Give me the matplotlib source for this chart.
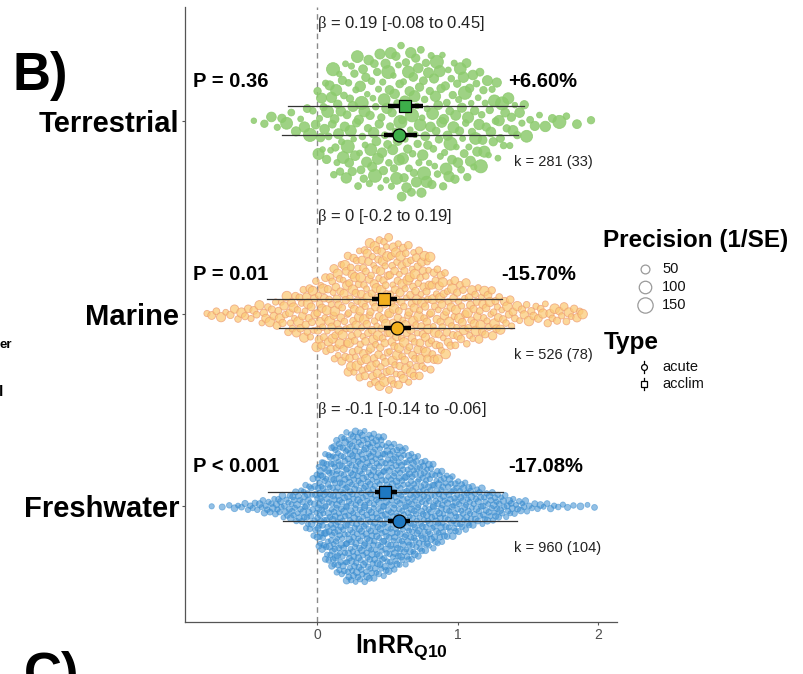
import numpy as np
import matplotlib
matplotlib.use('Agg')
import matplotlib.pyplot as plt

plt.rcParams['font.family'] = ['Liberation Sans', 'DejaVu Sans']
plt.rcParams['mathtext.fontset'] = 'custom'
plt.rcParams['mathtext.rm'] = 'Liberation Serif'
plt.rcParams['mathtext.bf'] = 'Liberation Sans:bold'
plt.rcParams['mathtext.it'] = 'Liberation Sans:italic'

# ---------------- data ----------------
habitats = ['Terrestrial', 'Marine', 'Freshwater']
ypos = [3, 2, 1]

bin_width = 0.1
# histogram of effect sizes (lnRR_Q10) per habitat, bins of width 0.1
terr_bin_start = -0.5
terr_counts = [1, 2, 3, 3, 5, 14, 18, 19, 20, 20, 22, 23, 22, 20, 19, 18, 16, 12, 9, 6, 3, 2, 2, 1, 1]
marine_bin_start = -0.8
marine_counts = [3, 3, 4, 5, 7, 10, 14, 18, 24, 31, 39, 43, 49, 47, 43, 41, 31, 23, 19, 18, 15, 10, 6, 6, 6, 6, 5]
fresh_bin_start = -0.8
fresh_counts = [1, 2, 4, 6, 10, 14, 20, 30, 68, 90, 100, 98, 92, 82, 74, 62, 52, 40, 32, 24, 20, 14, 9, 5, 4, 3, 2, 2]

terr_precision = [20, 35, 60, 25, 45, 90, 30, 55, 22, 70, 40, 110, 28, 50, 35, 80, 24, 45, 65]
marine_precision = [25, 40, 30, 55, 22, 35, 45, 28, 60, 33, 38]
fresh_precision = [18, 24, 20, 30, 16, 22, 26, 19, 21]

# model estimates: acute (circle) and acclim (square)
est_acute = [0.584, 0.569, 0.584]
est_acclim = [0.626, 0.477, 0.484]
ci_acute_lo = [0.477, 0.477, 0.505]
ci_acute_hi = [0.712, 0.669, 0.660]
ci_acclim_lo = [0.505, 0.390, 0.410]
ci_acclim_hi = [0.754, 0.570, 0.570]
pi_acute_lo = [-0.25, -0.27, -0.24]
pi_acute_hi = [1.43, 1.40, 1.42]
pi_acclim_lo = [-0.21, -0.356, -0.35]
pi_acclim_hi = [1.47, 1.317, 1.32]

p_labels = ['P = 0.36', 'P = 0.01', 'P < 0.001']
pct_labels = ['+6.60%', '-15.70%', '-17.08%']
beta_labels = [r'$\mathrm{\beta}$ = 0.19 [-0.08 to 0.45]',
               r'$\mathrm{\beta}$ = 0 [-0.2 to 0.19]',
               r'$\mathrm{\beta}$ = -0.1 [-0.14 to -0.06]']
k_labels = ['k = 281 (33)', 'k = 526 (78)', 'k = 960 (104)']

x_ticks = [0, 1, 2]
legend_precision = [50, 100, 150]
type_labels = ['acute', 'acclim']

# ---------------- styling ----------------
pt_face = ['#8DCB6E', '#FBCB78', '#3A8DD0']
pt_edge = ['#8DCB6E', '#EE9C72', '#3A8DD0']
pt_alpha = [0.85, 0.75, 0.55]
mark_col = ['#3DAE4A', '#F2B01E', '#1E78C2']
offset = 0.075


def van_der_corput(i, base=2):
    v, denom = 0.0, 1.0
    while i > 0:
        i, rem = divmod(i, base)
        denom *= base
        v += rem / denom
    return v


def bins_to_values(start, counts):
    vals = []
    for b, n in enumerate(counts):
        left = start + b * bin_width
        for j in range(n):
            vals.append(left + (j + 0.5) / n * bin_width)
    return np.array(vals)


def quasirandom(xv, width=0.4, adjust=0.5):
    n = len(xv)
    sd = np.std(xv, ddof=1)
    q75, q25 = np.percentile(xv, [75, 25])
    bw = 0.9 * min(sd, (q75 - q25) / 1.34) * n ** (-0.2) * adjust
    grid = np.linspace(xv.min() - 3 * bw, xv.max() + 3 * bw, 600)
    dg = np.exp(-0.5 * ((grid[:, None] - xv[None, :]) / bw) ** 2).sum(1)
    dens = np.interp(xv, grid, dg) / dg.max()
    ranks = np.argsort(np.argsort(xv, kind='stable'), kind='stable')
    vdc = np.array([van_der_corput(i + 1) for i in range(n)])
    return (vdc[ranks] - 0.5) * 2 * width * dens


def prec_to_s(p):
    d_px = 1.25 * np.sqrt(np.asarray(p, dtype=float))
    return (d_px * 72 / 100) ** 2


W, H = 804, 674
fig = plt.figure(figsize=(W / 100, H / 100), dpi=100)
ax = fig.add_axes([185 / W, 1 - 622 / H, (617 - 185) / W, (622 - 7) / H])
ax.set_xlim(-0.94, 2.135)
ax.set_ylim(0.40, 3.59)

groups = [(terr_bin_start, terr_counts, terr_precision),
          (marine_bin_start, marine_counts, marine_precision),
          (fresh_bin_start, fresh_counts, fresh_precision)]

for gi, (start, counts, prec) in enumerate(groups):
    xv = bins_to_values(start, counts)
    off = quasirandom(xv)
    p = [prec[i % len(prec)] for i in range(len(xv))]
    ax.scatter(xv, ypos[gi] + off, s=prec_to_s(p), c=pt_face[gi],
               edgecolors=pt_edge[gi], linewidths=0.6, alpha=pt_alpha[gi], zorder=2)

ax.axvline(0, color='#8a8a8a', lw=1.0, ls=(0, (4, 3)), zorder=1)

for gi in range(3):
    ya = ypos[gi] - offset
    yc = ypos[gi] + offset
    ax.plot([pi_acclim_lo[gi], pi_acclim_hi[gi]], [yc, yc], color='#333333', lw=0.9, zorder=3)
    ax.plot([pi_acute_lo[gi], pi_acute_hi[gi]], [ya, ya], color='#333333', lw=0.9, zorder=3)
    ax.plot([ci_acclim_lo[gi], ci_acclim_hi[gi]], [yc, yc], color='black', lw=3.2, zorder=4,
            solid_capstyle='butt')
    ax.plot([ci_acute_lo[gi], ci_acute_hi[gi]], [ya, ya], color='black', lw=3.2, zorder=4,
            solid_capstyle='butt')
    ax.plot([est_acclim[gi]], [yc], marker='s', ms=8.0, mfc=mark_col[gi], mec='black', mew=0.9, zorder=5)
    ax.plot([est_acute[gi]], [ya], marker='o', ms=9.3, mfc=mark_col[gi], mec='black', mew=0.9, zorder=5)

    ax.text(-0.885, ypos[gi] + 0.205, p_labels[gi], fontsize=14.5, fontweight='bold',
            ha='left', va='center', zorder=6)
    ax.text(1.31 if gi == 1 else 1.36, ypos[gi] + 0.205, pct_labels[gi], fontsize=14.5,
            fontweight='bold', ha='left', va='center', zorder=6)
    ax.text(0.0, ypos[gi] + 0.50, beta_labels[gi], fontsize=12, color='#222222',
            ha='left', va='center', zorder=6)
    ax.text(1.40, ypos[gi] - 0.215, k_labels[gi], fontsize=10.5, color='#222222',
            ha='left', va='center', zorder=6)

ax.set_yticks(ypos)
ax.set_yticklabels(habitats, fontsize=21, fontweight='bold')
ax.set_xticks(x_ticks)
ax.set_xticklabels([str(t) for t in x_ticks], fontsize=10, color='#4D4D4D')
ax.tick_params(axis='y', length=2.5, width=0.8, color='#555555', pad=1.5)
ax.tick_params(axis='x', length=2.5, width=0.8, color='#555555', pad=2)
for s in ['top', 'right']:
    ax.spines[s].set_visible(False)
for s in ['left', 'bottom']:
    ax.spines[s].set_color('#555555')
    ax.spines[s].set_linewidth(0.9)

# overlay for free-positioned annotations and legend (pixel coordinates)
lax = fig.add_axes([0, 0, 1, 1], zorder=10)
lax.set_xlim(0, W)
lax.set_ylim(H, 0)
lax.axis('off')
lax.patch.set_alpha(0)

lax.text(401, 653, r'$\mathbf{lnRR}_{\mathbf{Q10}}$', fontsize=18, ha='center', va='baseline')
lax.text(13, 90, 'B)', fontsize=38, fontweight='bold', ha='left', va='baseline')
lax.text(24, 690, 'C)', fontsize=38, fontweight='bold', ha='left', va='baseline')
lax.text(0, 345, 'er', fontsize=9.5, fontweight='bold', ha='left', va='center')
lax.text(-1, 392, 'l', fontsize=11, fontweight='bold', ha='left', va='center')

lax.text(603, 240, 'Precision (1/SE)', fontsize=17.5, fontweight='bold', ha='left', va='center')
leg_y = [269, 287, 305]
for val, yy in zip(legend_precision, leg_y):
    d_px = 1.25 * np.sqrt(val)
    lax.plot([645], [yy], marker='o', ms=d_px * 0.72, mfc='none', mec='#9a9a9a', mew=0.9)
    lax.text(662, yy, str(val), fontsize=10.5, ha='left', va='center', color='#111111')

lax.text(604, 343, 'Type', fontsize=17.5, fontweight='bold', ha='left', va='center')
type_y = [367, 384]
type_marker = ['o', 's']
for lab, yy, mk in zip(type_labels, type_y, type_marker):
    lax.plot([644, 644], [yy - 6, yy + 6], color='black', lw=0.9)
    lax.plot([644], [yy], marker=mk, ms=4.2, mfc='white', mec='black', mew=0.9)
    lax.text(662, yy, lab, fontsize=10.5, ha='left', va='center', color='#111111')

fig.savefig('out.png', dpi=100)
